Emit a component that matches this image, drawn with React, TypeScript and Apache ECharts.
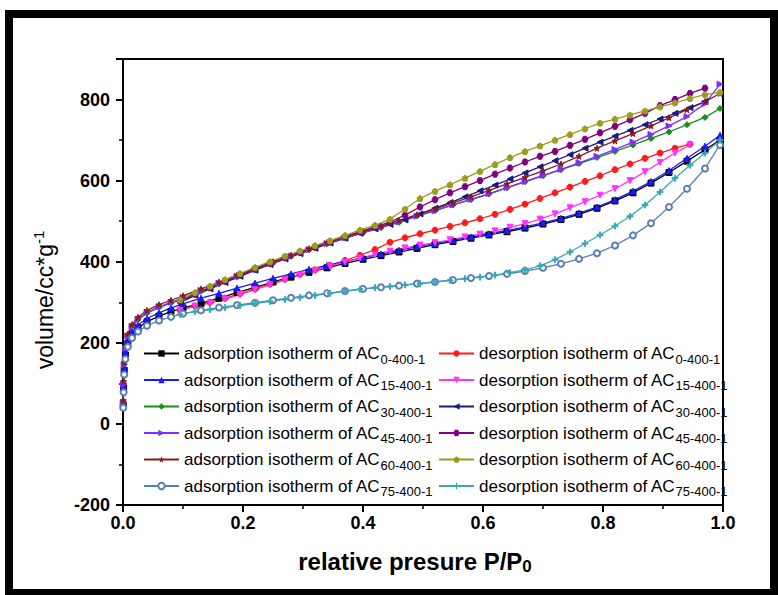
import React, { useEffect, useRef } from 'react';
import * as echarts from 'echarts';

// relative pressure grids
const adsP = [0.0005, 0.001, 0.002, 0.004, 0.008, 0.015, 0.025, 0.04, 0.06, 0.08, 0.1, 0.13, 0.16, 0.19, 0.22, 0.25, 0.28, 0.31, 0.34, 0.37, 0.4, 0.43, 0.46, 0.49, 0.52, 0.55, 0.58, 0.61, 0.64, 0.67, 0.7, 0.73, 0.76, 0.79, 0.82, 0.85, 0.88, 0.91, 0.94, 0.97, 0.995];
const desP = [0.995, 0.97, 0.945, 0.92, 0.895, 0.87, 0.845, 0.82, 0.795, 0.77, 0.745, 0.72, 0.695, 0.67, 0.645, 0.62, 0.595, 0.57, 0.545, 0.52, 0.495, 0.47, 0.445, 0.42, 0.395, 0.37, 0.345, 0.32, 0.295, 0.27, 0.245, 0.22, 0.195, 0.17, 0.145, 0.12, 0.095];

// adsorption volumes (cc/g)
const adsAC0 = [45, 88, 132, 170, 198, 220, 237, 252, 266, 277, 286, 297, 310, 324, 337, 350, 362, 374, 385, 396, 406, 415, 424, 433, 442, 450, 458, 466, 474, 483, 493, 504, 517, 532, 550, 570, 594, 620, 648, 676, 700];
const adsAC15 = [50, 95, 140, 178, 205, 227, 244, 260, 274, 286, 296, 310, 322, 335, 347, 359, 370, 381, 391, 401, 410, 419, 428, 437, 445, 453, 461, 469, 477, 486, 496, 507, 520, 535, 553, 574, 598, 625, 655, 685, 712];
const adsAC30 = [55, 100, 148, 188, 218, 240, 257, 273, 287, 298, 308, 327, 345, 362, 380, 397, 413, 429, 444, 458, 471, 484, 497, 513, 526, 540, 553, 567, 582, 597, 612, 627, 642, 657, 672, 688, 704, 720, 738, 756, 778];
const adsAC45 = [52, 98, 146, 186, 216, 240, 258, 275, 289, 300, 311, 329, 347, 364, 381, 398, 414, 430, 445, 459, 472, 485, 498, 512, 526, 540, 554, 568, 583, 598, 613, 628, 644, 660, 677, 695, 714, 735, 758, 790, 838];
const adsAC60 = [58, 105, 152, 192, 222, 245, 263, 280, 294, 305, 316, 333, 350, 367, 384, 400, 416, 432, 447, 461, 475, 488, 502, 516, 530, 545, 560, 576, 592, 608, 624, 641, 660, 680, 698, 716, 735, 755, 775, 795, 815];
const adsAC75 = [40, 78, 122, 160, 190, 212, 228, 242, 255, 264, 272, 280, 287, 293, 299, 305, 311, 317, 322, 328, 333, 337, 341, 346, 350, 355, 360, 365, 370, 377, 385, 395, 407, 421, 440, 465, 495, 535, 580, 630, 688];

// desorption volumes (cc/g), null = no point
const desAC0 = [null, null, 690, 680, 668, 655, 641, 627, 612, 598, 584, 570, 556, 542, 529, 517, 506, 496, 487, 478, 469, 459, 448, 430, 416, 403, 391, 380, 369, 357, 345, 333, 321, 310, 300, 291, 281];
const desAC15 = [null, null, 688, 668, 645, 622, 600, 580, 564, 548, 533, 518, 505, 494, 485, 476, 468, 461, 454, 447, 441, 434, 426, 418, 409, 399, 389, 378, 367, 355, 343, 331, 319, 308, 298, 290, 280];
const desAC30 = [null, 795, 780, 766, 752, 738, 724, 710, 695, 680, 664, 649, 634, 619, 604, 589, 575, 560, 546, 532, 518, 503, 492, 481, 470, 458, 446, 433, 420, 407, 393, 379, 364, 349, 333, 317, 299];
const desAC45 = [null, 828, 815, 800, 785, 766, 750, 734, 718, 702, 687, 672, 660, 646, 631, 616, 600, 585, 570, 553, 535, 515, 498, 486, 474, 462, 449, 436, 423, 410, 396, 382, 367, 352, 336, 320, 302];
const desAC60 = [818, 812, 803, 792, 782, 772, 762, 752, 742, 728, 714, 700, 686, 672, 657, 640, 623, 606, 590, 574, 556, 530, 505, 490, 478, 465, 452, 440, 427, 414, 400, 386, 371, 356, 340, 324, 306];
const desAC75 = [700, 668, 638, 606, 572, 540, 512, 488, 466, 445, 424, 405, 390, 380, 373, 367, 362, 358, 354, 350, 346, 343, 339, 336, 332, 327, 322, 317, 312, 307, 302, 297, 292, 287, 282, 277, 270];

const samples = ['0-400-1', '15-400-1', '30-400-1', '45-400-1', '60-400-1', '75-400-1'];
const adsNames = samples.map((s) => 'adsorption isotherm of AC' + s);
const desNames = samples.map((s) => 'desorption isotherm of AC' + s);

const xTicks = [0, 0.2, 0.4, 0.6, 0.8, 1.0];
const yTicks = [-200, 0, 200, 400, 600, 800];

const STAR = 'path://M50,0 L61,35 L98,35 L68,57 L79,91 L50,70 L21,91 L32,57 L2,35 L39,35 Z';
const HEX = 'path://M25,0 L75,0 L100,43 L75,87 L25,87 L0,43 Z';
const PENT = 'path://M50,0 L100,38 L81,100 L19,100 L0,38 Z';
const PLUS = 'path://M40,0 H60 V40 H100 V60 H60 V100 H40 V60 H0 V40 H40 Z';

const FONT = '"Liberation Sans", Arial, Helvetica, sans-serif';

function pairs(ps: number[], vs: (number | null)[]) {
  const out: number[][] = [];
  ps.forEach((p, i) => {
    const v = vs[i];
    if (v !== null && v !== undefined) out.push([p, v]);
  });
  return out;
}

const seriesDefs = [
  { name: adsNames[0], p: adsP, v: adsAC0, color: '#000000', symbol: 'rect', rot: 0 },
  { name: desNames[0], p: desP, v: desAC0, color: '#ff1a1a', symbol: 'circle', rot: 0 },
  { name: adsNames[1], p: adsP, v: adsAC15, color: '#1a1aff', symbol: 'triangle', rot: 0 },
  { name: desNames[1], p: desP, v: desAC15, color: '#ff33ff', symbol: 'triangle', rot: 180 },
  { name: adsNames[2], p: adsP, v: adsAC30, color: '#1a8c1a', symbol: 'diamond', rot: 0 },
  { name: desNames[2], p: desP, v: desAC30, color: '#1a1a85', symbol: 'triangle', rot: 90 },
  { name: adsNames[3], p: adsP, v: adsAC45, color: '#7f2fff', symbol: 'triangle', rot: -90 },
  { name: desNames[3], p: desP, v: desAC45, color: '#800080', symbol: HEX, rot: 0 },
  { name: adsNames[4], p: adsP, v: adsAC60, color: '#8b1a1a', symbol: STAR, rot: 0 },
  { name: desNames[4], p: desP, v: desAC60, color: '#9c9c1e', symbol: PENT, rot: 0 },
  { name: adsNames[5], p: adsP, v: adsAC75, color: '#5a7fb5', symbol: 'emptyCircle', rot: 0 },
  { name: desNames[5], p: desP, v: desAC75, color: '#3aa8b4', symbol: PLUS, rot: 0 },
];

const legendRich = {
  m: { fontSize: 17, fontFamily: FONT, color: '#000', lineHeight: 24 },
  s: { fontSize: 13, fontFamily: FONT, color: '#000', lineHeight: 12, verticalAlign: 'bottom' },
};

function legendFormatter(name: string) {
  const i = name.indexOf('AC') + 2;
  return '{m|' + name.slice(0, i) + '}{s|' + name.slice(i) + '}';
}

export default function App() {
  const ref = useRef<HTMLDivElement>(null);

  useEffect(() => {
    if (!ref.current) return;
    const chart = echarts.init(ref.current, undefined, { renderer: 'svg' });
    const legendBase = {
      orient: 'vertical',
      top: 340,
      itemWidth: 35,
      itemHeight: 8,
      itemGap: 6,
      selectedMode: false,
      formatter: legendFormatter,
      textStyle: { color: '#000', fontFamily: FONT, rich: legendRich },
    };
    chart.setOption({
      animation: false,
      backgroundColor: '#ffffff',
      grid: { left: 123, top: 59, width: 600, height: 446, show: true, borderColor: '#000', borderWidth: 2 },
      xAxis: {
        type: 'value',
        min: xTicks[0],
        max: xTicks[xTicks.length - 1],
        interval: 0.2,
        axisLine: { show: true, onZero: false, lineStyle: { color: '#000', width: 2 } },
        axisTick: { show: true, inside: false, length: 7, lineStyle: { color: '#000', width: 2 } },
        minorTick: { show: true, splitNumber: 2, length: 4, lineStyle: { color: '#000', width: 1.5 } },
        splitLine: { show: false },
        axisLabel: {
          margin: 9,
          color: '#000',
          fontSize: 18,
          fontWeight: 'bold',
          fontFamily: FONT,
          formatter: (v: number) => v.toFixed(1),
        },
      },
      yAxis: {
        type: 'value',
        min: yTicks[0],
        max: 900,
        interval: 200,
        axisLine: { show: true, onZero: false, lineStyle: { color: '#000', width: 2 } },
        axisTick: { show: true, inside: false, length: 7, lineStyle: { color: '#000', width: 2 } },
        minorTick: { show: true, splitNumber: 2, length: 4, lineStyle: { color: '#000', width: 1.5 } },
        splitLine: { show: false },
        axisLabel: {
          margin: 13,
          color: '#000',
          fontSize: 18,
          fontWeight: 'bold',
          fontFamily: FONT,
          formatter: (v: number) => (yTicks.indexOf(v) >= 0 ? String(v) : ''),
        },
      },
      legend: [
        { ...legendBase, left: 138, data: adsNames },
        { ...legendBase, left: 433, data: desNames },
      ],
      graphic: [
        {
          type: 'text',
          x: 415,
          y: 561,
          style: {
            text: '{m|relative presure P/P}{s|0}',
            align: 'center',
            verticalAlign: 'middle',
            rich: {
              m: { fontSize: 24, fontWeight: 'bold', fontFamily: FONT, fill: '#000', lineHeight: 28 },
              s: { fontSize: 17, fontWeight: 'bold', fontFamily: FONT, fill: '#000', lineHeight: 14, verticalAlign: 'bottom' },
            },
          },
        },
        {
          type: 'text',
          x: 45,
          y: 300,
          rotation: Math.PI / 2,
          style: {
            text: '{m|volume/cc*g}{s|-1}',
            align: 'center',
            verticalAlign: 'middle',
            rich: {
              m: { fontSize: 23, fontFamily: FONT, fill: '#000', lineHeight: 28 },
              s: { fontSize: 15, fontFamily: FONT, fill: '#000', lineHeight: 14, verticalAlign: 'top' },
            },
          },
        },
      ],
      series: seriesDefs.map((d) => ({
        name: d.name,
        type: 'line',
        data: pairs(d.p, d.v),
        symbol: d.symbol,
        symbolRotate: d.rot,
        symbolSize: 6,
        showSymbol: true,
        color: d.color,
        lineStyle: { color: d.color, width: 1.3 },
        itemStyle: { color: d.color, borderColor: d.color },
        emphasis: { disabled: true },
      })),
    });
    return () => chart.dispose();
  }, []);

  return (
    <div style={{ position: 'absolute', left: 0, top: 0, width: 778, height: 595, background: '#fff' }}>
      <div ref={ref} style={{ position: 'absolute', left: 0, top: 0, width: 778, height: 595 }} />
      <div
        style={{
          position: 'absolute',
          left: 5,
          top: 10,
          width: 773,
          height: 585,
          boxSizing: 'border-box',
          borderStyle: 'solid',
          borderColor: '#000',
          borderWidth: '8px 8px 6px 8px',
          pointerEvents: 'none',
        }}
      />
    </div>
  );
}
